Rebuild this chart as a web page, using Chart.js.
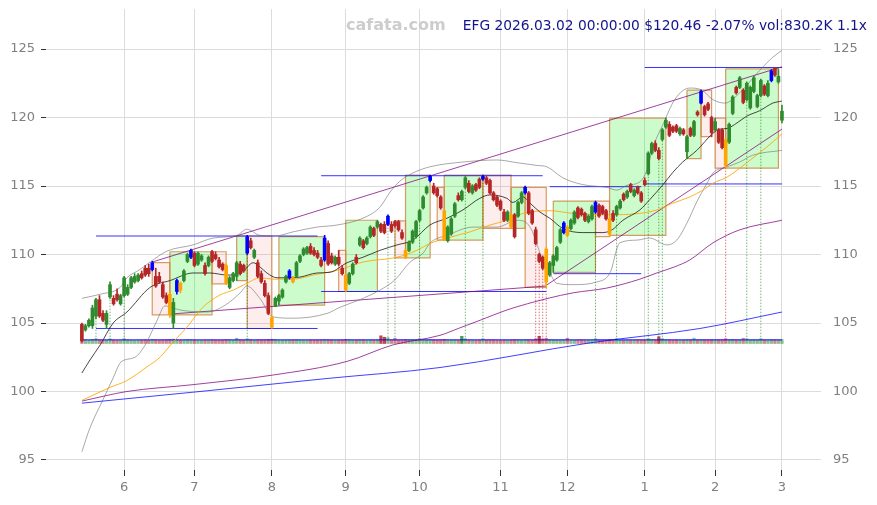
<!DOCTYPE html>
<html lang="en">
<head>
<meta charset="UTF-8">
<title>EFG - daily</title>
<script src="https://cdn.jsdelivr.net/npm/chart.js@4.4.0/dist/chart.umd.min.js"></script>
<style>
  html, body { margin: 0; padding: 0; background: #fff; }
  #wrap { width: 877px; height: 505px; }
</style>
</head>
<body>
<div id="wrap"><canvas id="grafico"></canvas></div>
<script>
// daily candles [open, high, low, close], index 0 = mid May 2025, last = 2026-03-02
const candles = [
  [104.9,105.0,103.6,103.7],[104.5,104.9,104.4,104.8],[104.8,105.3,104.7,105.2],[104.8,106.3,104.6,106.1],[105.5,106.8,105.3,106.7],
  [106.7,107.0,105.4,105.5],[105.7,105.9,105.1,105.2],[104.9,105.9,104.6,105.7],[106.9,108.0,106.8,107.8],[106.8,107.0,106.3,106.4],
  [107.1,107.5,106.6,106.7],[106.4,107.1,106.3,107.0],[107.0,108.4,106.9,108.3],[107.1,107.8,107.0,107.6],[107.6,108.4,107.5,108.3],
  [108.0,108.6,107.9,108.4],[108.1,108.6,108.0,108.5],[108.6,108.8,108.2,108.3],[109.0,109.2,108.4,108.5],[109.0,109.3,108.4,108.6],
  [108.9,109.5,108.8,109.4],[108.4,109.0,107.6,107.7],[108.4,108.7,107.9,108.0],[107.8,108.0,106.8,106.9],[107.0,107.2,106.4,106.5],
  [107.1,107.3,105.4,105.6],[105.0,106.8,104.6,106.5],[107.3,108.2,107.1,108.1],[107.9,108.0,107.2,107.4],[108.1,108.9,108.0,108.8],
  [109.5,110.1,109.4,110.0],[109.8,110.4,109.7,110.3],[110.1,110.2,109.1,109.2],[109.3,110.2,109.2,110.1],[109.6,110.0,109.5,109.9],
  [109.2,109.4,108.5,108.6],[109.2,109.9,109.1,109.8],[110.2,110.3,109.4,109.5],[110.0,110.2,109.6,109.7],[109.6,109.8,109.0,109.1],
  [109.3,109.4,108.8,108.9],[109.2,109.3,107.8,107.9],[107.6,108.4,107.5,108.3],[108.1,108.7,108.0,108.6],[108.4,109.5,108.1,109.4],
  [109.3,109.5,108.5,108.6],[109.2,109.3,108.7,108.8],[110.1,111.4,110.0,111.3],[111.0,111.2,110.4,110.5],[109.8,110.4,109.7,110.3],
  [109.4,109.6,108.3,108.4],[108.6,108.8,107.9,108.0],[107.9,108.1,106.9,107.0],[107.0,107.2,105.6,105.7],[105.4,105.5,104.6,104.7],
  [106.2,106.9,106.2,106.8],[106.6,107.1,106.3,107.0],[106.9,107.5,106.8,107.4],[108.0,108.5,107.9,108.4],[108.3,108.9,108.2,108.8],
  [108.3,108.4,107.9,108.0],[108.4,109.5,108.3,109.4],[109.5,110.0,109.4,109.9],[110.0,110.5,109.9,110.4],[110.1,110.6,110.0,110.5],
  [110.6,110.8,110.0,110.1],[110.3,110.5,109.9,110.0],[110.1,110.3,109.7,109.8],[109.6,109.8,109.1,109.2],[109.6,111.4,109.5,111.2],
  [110.8,111.0,109.2,109.3],[109.9,110.1,109.3,109.4],[109.3,109.9,109.2,109.8],[109.8,110.3,109.2,109.3],[109.0,109.2,108.5,108.6],
  [108.5,108.6,107.3,107.4],[107.9,108.7,107.8,108.6],[108.6,109.4,108.5,109.3],[109.8,110.0,109.3,109.4],[110.7,111.3,110.6,111.2],
  [111.0,111.1,110.4,110.5],[110.8,111.3,110.7,111.2],[111.3,112.1,111.2,112.0],[111.9,112.0,111.3,111.4],[112.0,112.5,111.9,112.4],
  [112.2,112.3,111.6,111.7],[112.2,112.4,111.5,111.6],[112.2,112.9,112.1,112.8],[112.2,112.4,111.6,111.7],[112.4,112.5,112.0,112.1],
  [112.4,112.5,111.7,111.8],[111.6,111.8,111.1,111.2],[110.3,110.4,109.7,109.8],[110.3,111.0,110.2,110.9],[110.9,111.8,110.8,111.7],
  [111.3,112.5,111.2,112.4],[112.5,113.3,112.4,113.2],[113.4,114.3,113.3,114.2],[114.5,115.0,114.4,114.9],[115.4,115.8,115.3,115.7],
  [115.0,115.2,114.4,114.5],[114.8,114.9,114.2,114.3],[114.2,114.3,113.3,113.4],[113.2,113.3,111.0,111.1],[111.0,112.1,110.9,112.0],
  [111.5,112.7,111.4,112.6],[112.8,113.8,112.7,113.7],[114.3,114.5,113.9,114.0],[114.0,114.7,113.9,114.6],[114.9,115.7,114.8,115.6],
  [115.2,115.4,114.5,114.6],[114.5,115.1,114.4,115.0],[115.1,115.2,114.6,114.7],[115.5,115.6,114.8,114.9],[115.5,115.8,115.4,115.7],
  [115.6,115.7,115.1,115.2],[115.4,115.5,114.4,114.5],[114.5,114.6,113.9,114.0],[114.2,114.3,113.5,113.6],[113.9,114.0,113.2,113.3],
  [113.1,113.3,112.4,112.5],[112.5,113.2,112.4,113.1],[112.9,113.0,111.9,112.0],[112.9,113.0,111.2,111.3],[112.8,113.9,112.7,113.8],
  [113.8,114.6,113.7,114.5],[114.5,115.0,114.4,114.9],[114.5,114.6,112.9,113.0],[113.2,113.3,112.2,112.3],[111.8,112.0,110.7,110.8],
  [110.0,110.1,109.4,109.5],[109.8,109.9,108.9,109.0],[110.4,110.5,107.6,108.0],[108.5,109.5,108.4,109.4],[109.2,110.0,108.7,109.9],
  [109.6,110.6,109.5,110.5],[110.9,111.9,110.8,111.8],[111.6,112.4,111.5,112.3],[112.0,112.1,111.3,111.4],[111.9,112.6,111.8,112.5],
  [112.3,113.2,112.2,113.1],[113.4,113.5,112.6,112.7],[113.3,113.4,112.8,112.9],[113.0,113.1,112.4,112.5],[112.4,112.9,112.3,112.8],
  [112.6,113.6,112.5,113.5],[113.1,113.9,113.0,113.8],[113.6,113.7,112.7,112.8],[113.5,113.6,112.9,113.0],[113.2,113.3,112.5,112.6],
  [112.6,112.8,111.3,111.5],[113.0,113.2,112.4,112.5],[112.9,113.6,112.8,113.5],[113.4,114.0,113.3,113.9],[114.4,114.5,113.9,114.0],
  [114.2,114.7,114.1,114.6],[115.1,115.2,114.5,114.6],[114.3,114.8,114.2,114.7],[114.9,115.0,114.4,114.5],[114.5,114.6,113.8,113.9],
  [115.4,115.6,115.0,115.1],[115.9,117.5,115.8,117.4],[117.4,118.2,117.3,118.1],[118.1,118.3,117.5,117.6],[117.6,117.8,116.9,117.0],
  [118.4,119.2,118.3,119.1],[119.3,119.95,119.2,119.8],[119.5,119.7,118.6,118.7],[119.3,119.4,118.9,119.0],[119.4,119.5,118.9,119.0],
  [118.8,119.3,118.7,119.2],[119.1,119.2,118.7,118.8],[117.5,118.7,117.0,118.6],[119.2,119.3,118.6,118.7],[118.7,119.8,118.6,119.7],
  [120.4,120.5,120.1,120.2],[121.05,122.0,121.0,121.9],[120.8,120.9,120.1,120.2],[121.0,121.1,120.5,120.6],[120.0,120.1,118.6,118.9],
  [119.1,119.95,119.0,119.7],[119.1,119.2,118.1,118.2],[119.1,119.2,117.7,117.8],[118.4,118.5,116.3,116.5],[118.2,119.6,118.1,119.5],
  [120.3,121.6,120.2,121.5],[122.2,122.3,121.7,121.8],[122.2,123.0,122.1,122.9],[122.0,122.1,121.0,121.1],[121.3,122.6,121.2,122.5],
  [120.7,122.3,120.6,122.2],[121.9,123.0,121.8,122.9],[120.8,121.7,120.7,121.6],[121.6,122.8,121.5,122.7],[122.3,122.4,121.6,121.7],
  [121.6,122.7,121.5,122.5],[122.7,123.5,122.6,123.4],[123.6,123.65,123.0,123.1],[122.6,123.5,122.5,123.0],[119.8,120.9,119.6,120.46]
];

// volume per day, thousands of shares
const volumes = [
  900,760,700,820,1000,780,690,740,980,720,650,700,1000,760,680,640,720,700,760,690,
  820,760,700,740,780,860,900,760,700,720,800,760,700,680,660,720,700,760,690,700,
  720,800,760,700,1100,760,720,1000,800,700,760,740,780,860,900,820,700,680,720,700,
  740,760,720,680,700,740,720,700,760,820,780,740,700,720,760,860,780,720,700,760,
  740,700,760,720,780,1600,1300,1200,760,1100,740,760,820,760,740,780,1000,800,760,840,
  780,740,760,860,760,720,740,700,1500,1000,760,720,700,740,1000,760,780,740,720,700,
  740,700,760,780,760,720,800,780,760,1000,1500,1000,1100,820,760,740,760,760,1100,720,
  700,740,760,720,700,740,1000,760,720,740,820,760,1000,720,700,740,720,700,740,760,
  760,1000,820,760,1400,1000,780,760,720,740,700,720,800,760,1100,740,840,780,760,800,
  760,780,800,1000,820,860,760,780,1100,1000,760,780,740,1000,760,740,800,780,760,830
];
const volAvg = [[0, 760], [100, 770], [199, 770]];

// swing highs (blue) and swing lows (orange)
const highMarks = [20, 27, 31, 47, 59, 69, 87, 99, 114, 126, 137, 146, 176, 196];
const lowMarks = [25, 28, 41, 54, 60, 75, 92, 103, 122, 132, 138, 150, 183];

// big volume days
const markUp = [4, 8, 12, 47, 87, 89, 96, 109, 114, 146, 152, 161, 164, 165, 189, 193];
const markDown = [129, 130, 131, 132, 183];

const monthTicks = [12, 32, 54, 75, 96, 119, 138, 160, 180, 199];
const monthLabels = ['6', '7', '8', '9', '10', '11', '12', '1', '2', '3'];
const priceTicks = [95, 100, 105, 110, 115, 120, 125];

// moving averages [day index, price]
const ma20 = [[0,101.35],[2.3,102.3],[5.2,103.4],[8.9,105.0],[12.8,105.8],[19.4,107.6],[25.1,108.1],[31.6,108.65],[36.4,108.65],[41.3,108.5],[45.5,108.7],[48.7,109.4],[50.6,109.1],[52.6,108.65],[55.5,108.3],[58.3,108.3],[62,108.35],[66.8,108.65],[70.5,108.7],[75.4,109.4],[79.9,109.8],[84.7,110.3],[89.6,110.7],[94.1,111.05],[98.9,112.15],[103.8,112.65],[108.3,113.25],[113.1,114.1],[116,114.35],[120.8,114.1],[122.5,113.8],[125.4,114.2],[127.4,113.75],[130.2,113.1],[133,112.65],[136.7,111.9],[142.4,111.6],[148.1,111.6],[150.7,111.8],[153.8,112.5],[158.6,113.25],[161.4,114.0],[165.2,115.1],[168,116.0],[170.8,116.75],[174.8,117.6],[179.4,118.85],[181.4,119.15],[183.4,119.2],[186.2,119.6],[189,120.1],[192.7,120.5],[196.4,121.05],[199,121.2]];
const ma50 = [[0,99.35],[8,100.3],[12.8,100.8],[18.5,101.8],[22.2,102.5],[25.9,103.6],[29.9,104.7],[34.4,106.15],[39.3,107.05],[43,107.4],[46.9,107.9],[50.6,108.3],[54.3,108.2],[60,108.2],[65.7,108.5],[73.4,108.9],[79.9,109.45],[89.6,109.8],[95.2,110.3],[98.9,110.8],[103.8,111.2],[110.3,111.65],[116,112.15],[120.8,112.5],[125.4,113.0],[133,113.2],[139.6,113.0],[149.2,112.9],[158.6,113.0],[163.4,113.25],[168,113.75],[172.8,114.2],[176.5,114.7],[179.4,115.2],[183.4,115.65],[189,116.7],[194.7,117.85],[199,118.8]];
const ma100 = [[0,99.3],[12.8,100.0],[31.6,100.5],[54.3,101.2],[75.4,102.2],[88.4,103.4],[101.8,104.1],[107,104.6],[113.2,105.2],[120.8,105.95],[132.5,106.8],[139.6,107.2],[149.2,107.55],[158.6,108.2],[163.4,108.65],[168.5,109.1],[172.8,109.6],[179.4,110.85],[187,111.8],[199,112.5]];
const ma200 = [[0,99.15],[33.6,100.0],[69.7,100.95],[101.8,101.75],[144.4,103.55],[175.7,104.6],[199,105.8]];

// bollinger bands
const bbUpper = [[0,106.8],[5.2,107.1],[10.9,107.6],[12.8,108.3],[16.5,108.9],[19.4,109.45],[24.2,110.25],[31.6,110.7],[37.3,111.2],[44.1,111.4],[46.9,111.85],[50.6,111.4],[54.9,111.35],[60,111.65],[66.8,112.0],[72.5,112.15],[79.9,112.65],[84.7,113.45],[87.6,114.55],[90.4,115.35],[94.1,115.95],[98.9,116.4],[108.3,116.75],[118,116.9],[123.7,116.7],[129.4,116.5],[132.2,116.4],[136.7,115.6],[142.4,115.1],[149.2,114.9],[152.1,114.7],[154.9,115.05],[158.6,115.3],[160.6,116.15],[162.3,117.8],[165.2,119.5],[168.5,121.3],[172.8,122.15],[176.2,122.0],[179.4,121.3],[182.8,121.05],[187,121.8],[192.7,123.45],[196.4,124.4],[199,124.9]];
const bbLower = [[0,95.6],[2.3,97.35],[6,99.4],[8.9,101.0],[11.1,102.15],[15.1,102.5],[18,103.4],[21.4,105.2],[23.6,106.25],[27.9,105.95],[35.6,105.8],[40.7,106.3],[45,107.2],[46.9,107.7],[50.6,106.8],[54.3,105.45],[60,105.35],[69.7,105.7],[73.4,106.15],[79,106.7],[84.7,107.4],[89,108.15],[93.3,109.45],[97,110.1],[99,110.85],[103.8,111.4],[111.2,112.0],[118,112.0],[123.7,112.5],[127.4,112.0],[131,109.6],[133,108.65],[135,107.9],[139.6,107.8],[146.4,108.0],[150.1,108.65],[152.9,110.85],[157.8,111.05],[161.4,111.2],[166.3,110.7],[169.1,111.05],[172,112.3],[174.8,113.85],[177.7,115.2],[179.4,115.95],[183.4,116.4],[187,116.75],[190.7,117.25],[199,117.6]];

// trend lines [x0, y0, x1, y1]
const trendLines = [[20,109.45,199,123.7],[25,105.65,132,107.7],[132,107.75,199,119.15]];
// support / resistance levels [x0, price, x1, price]
const levels = [[4,111.35,67,111.35],[4,104.6,67,104.6],[68,115.75,131,115.75],[68,107.3,132,107.3],[133,114.95,159,114.95],[134,108.6,159,108.6],[160,115.15,199,115.15],[160,123.65,199,123.65]];
// swing boxes [start, end, top, bottom, up/down]
const boxes = [
  [20,25,109.4,105.6,'d'],[25,37,110.2,105.6,'u'],[37,41,110.2,107.85,'d'],[44,47,111.35,108.1,'u'],
  [47,54,111.35,104.6,'d'],[56,69,111.3,106.3,'u'],[73,75,110.3,107.3,'d'],[75,84,112.5,107.3,'u'],
  [89,92,112.45,109.75,'d'],[92,99,115.8,109.75,'u'],[101,103,114.9,111.05,'d'],[103,114,115.8,111.05,'u'],
  [114,122,115.8,111.9,'d'],[122,126,114.9,111.9,'u'],[126,132,114.9,107.6,'d'],[134,146,113.9,108.7,'u'],
  [146,150,113.9,111.3,'d'],[150,166,119.95,111.4,'u'],[172,176,122.0,117.0,'u'],[176,179,122.0,118.6,'d'],
  [180,183,119.95,116.3,'d'],[183,198,123.55,116.3,'u']
];

const watermark = 'cafata.com';
const headline = 'EFG 2026.03.02 00:00:00 $120.46 -2.07% vol:830.2K 1.1x';

const UP = '#2e8b2e', DOWN = '#b52626', HI = '#0000ff', LO = '#ffa500';
const dotBase = 103.75;

function candleColor(i) {
  if (highMarks.includes(i)) return HI;
  if (lowMarks.includes(i)) return LO;
  return candles[i][3] >= candles[i][0] ? UP : DOWN;
}
const candleColors = candles.map((c, i) => candleColor(i));

function lineSet(points, color, width, order, smooth) {
  return {
    type: 'line',
    data: points.map(p => ({ x: p[0], y: p[1] })),
    borderColor: color,
    borderWidth: width,
    pointRadius: 0,
    fill: false,
    order: order,
    yAxisID: 'y',
    cubicInterpolationMode: smooth ? 'monotone' : 'default',
    tension: 0
  };
}

function segmentSet(list, color, width, order, dash) {
  const pts = [];
  list.forEach(s => {
    pts.push({ x: s[0], y: s[1] }, { x: s[2], y: s[3] }, { x: s[2], y: null });
  });
  return {
    type: 'line', data: pts, borderColor: color, borderWidth: width,
    borderDash: dash || [], pointRadius: 0, fill: false, spanGaps: false,
    order: order, yAxisID: 'y'
  };
}

const datasets = [];

// candles
datasets.push({
  type: 'bar', data: candles.map((c, i) => ({ x: i, y: [c[0], c[3]] })),
  backgroundColor: candleColors, barThickness: 3, grouped: false, minBarLength: 1,
  order: 0, yAxisID: 'y'
});
datasets.push({
  type: 'bar', data: candles.map((c, i) => ({ x: i, y: [c[2], c[1]] })),
  backgroundColor: candleColors, barThickness: 1, grouped: false, minBarLength: 1,
  order: 1, yAxisID: 'y'
});

// averages
datasets.push(lineSet(ma20, '#1a1a1a', 0.8, 2, true));
datasets.push(lineSet(ma50, 'rgba(255,165,0,0.85)', 1, 2, true));
datasets.push(lineSet(ma100, 'rgba(128,0,128,0.75)', 1, 2, true));
datasets.push(lineSet(ma200, 'rgba(0,0,255,0.75)', 1, 2, true));
datasets.push(lineSet(bbUpper, 'rgba(110,110,110,0.75)', 0.8, 3, true));
datasets.push(lineSet(bbLower, 'rgba(110,110,110,0.75)', 0.8, 3, true));

// trend lines and levels
datasets.push(segmentSet(trendLines, 'rgba(128,0,128,0.75)', 1, 3));
datasets.push(segmentSet(levels, 'rgba(0,0,255,0.8)', 1, 4));

// dotted volume markers
datasets.push(segmentSet(markUp.map(i => [i, dotBase, i, candles[i][2]]), 'rgba(0,128,0,0.7)', 0.8, 5, [1.5, 1.5]));
datasets.push(segmentSet(markDown.map(i => [i, dotBase, i, candles[i][2]]), 'rgba(200,0,0,0.7)', 0.8, 5, [1.5, 1.5]));

// volume
datasets.push({
  type: 'line', data: volAvg.map(p => ({ x: p[0], y: p[1] })),
  borderColor: 'rgba(0,0,255,0.8)', borderWidth: 1.2, pointRadius: 0, fill: false,
  order: 6, yAxisID: 'yVol'
});
datasets.push({
  type: 'bar', data: volumes.map((v, i) => ({ x: i, y: v })),
  backgroundColor: volumes.map((v, i) => (candles[i][3] >= candles[i][0] ? 'rgba(46,139,46,' : 'rgba(181,38,38,') + (v > 1200 ? '0.85)' : '0.55)')),
  barThickness: 2.6, grouped: false, order: 7, yAxisID: 'yVol'
});

// boxes
boxes.forEach(b => {
  datasets.push({
    type: 'line',
    data: [{ x: b[0], y: b[2] }, { x: b[1], y: b[2] }, { x: b[1], y: b[3] }, { x: b[0], y: b[3] }, { x: b[0], y: b[2] }],
    borderColor: 'rgba(205,133,63,0.8)', borderWidth: 1.2,
    backgroundColor: b[4] === 'u' ? 'rgba(0,235,0,0.2)' : 'rgba(240,60,60,0.09)',
    fill: 'shape', pointRadius: 0, order: 8, yAxisID: 'y'
  });
});

const textoTopo = {
  id: 'textoTopo',
  afterDraw(chart) {
    const ctx = chart.ctx;
    ctx.save();
    ctx.textBaseline = 'middle';
    ctx.textAlign = 'left';
    ctx.font = 'bold 16px "DejaVu Sans"';
    ctx.fillStyle = '#cdcdcd';
    ctx.fillText(watermark, 346, 26);
    ctx.textAlign = 'right';
    ctx.font = '13.8px "DejaVu Sans"';
    ctx.fillStyle = '#14148c';
    ctx.fillText(headline, 867, 26);
    ctx.restore();
  }
};

Chart.defaults.font.family = '"DejaVu Sans"';
const tickFont = { family: '"DejaVu Sans"', size: 13 };
const yMin = 94.27, yMax = 127.92;

// fixed axis sizes so the plot area lands where the reference has it
function fixVertical(width) {
  return s => { s.width = width; s.paddingTop = 0; s.paddingBottom = 0; };
}

new Chart(document.getElementById('grafico'), {
  type: 'bar',
  data: { datasets: datasets },
  options: {
    responsive: true,
    maintainAspectRatio: false,
    animation: false,
    events: [],
    layout: { padding: { top: 9, left: 0, right: 0, bottom: 0 } },
    plugins: { legend: { display: false }, tooltip: { enabled: false } },
    scales: {
      x: {
        type: 'linear', min: -10.2, max: 210.1, offset: false,
        grid: { color: '#dcdcdc', offset: false, tickLength: 6, tickColor: '#333' },
        border: { display: false },
        ticks: {
          color: '#808080', font: tickFont, padding: 4, autoSkip: false, maxRotation: 0,
          callback: v => { const k = monthTicks.indexOf(v); return k >= 0 ? monthLabels[k] : ''; }
        },
        afterBuildTicks: s => { s.ticks = monthTicks.map(v => ({ value: v })); },
        afterFit: s => { s.height = 35; s.paddingLeft = 0; s.paddingRight = 0; }
      },
      y: {
        position: 'left', min: yMin, max: yMax,
        grid: { color: '#dcdcdc', tickLength: 5, tickColor: '#333' },
        border: { display: false },
        ticks: { color: '#808080', font: tickFont, padding: 6 },
        afterBuildTicks: s => { s.ticks = priceTicks.map(v => ({ value: v })); },
        afterFit: fixVertical(46)
      },
      y2: {
        position: 'right', min: yMin, max: yMax,
        grid: { drawOnChartArea: false, drawTicks: false },
        border: { display: false },
        ticks: { color: '#808080', font: tickFont, padding: 12 },
        afterBuildTicks: s => { s.ticks = priceTicks.map(v => ({ value: v })); },
        afterFit: fixVertical(56)
      },
      yVol: { display: false, min: -26354, max: 69690 }
    }
  },
  plugins: [textoTopo]
});
</script>
</body>
</html>
